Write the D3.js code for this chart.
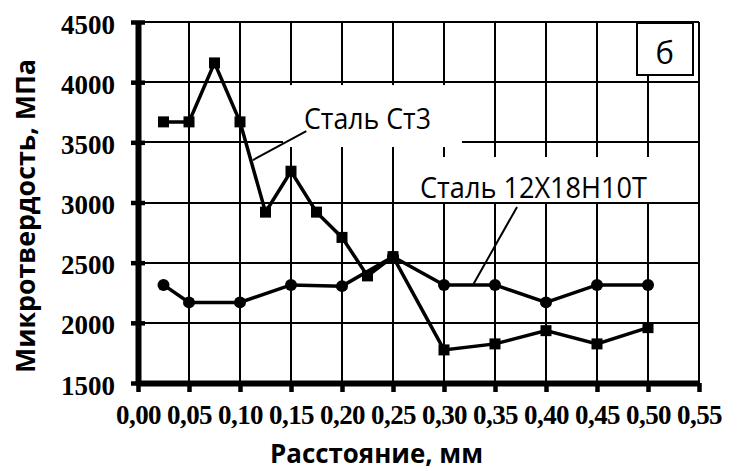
<!DOCTYPE html>
<html>
<head>
<meta charset="utf-8">
<script src="https://cdn.jsdelivr.net/npm/d3@7"></script>
<style>
  body { margin: 0; background: #fff; }
  svg { display: block; }
</style>
</head>
<body>
<svg width="738" height="471"></svg>
<script>
// distance, mm
var xTicks = [0, 0.05, 0.10, 0.15, 0.20, 0.25, 0.30, 0.35, 0.40, 0.45, 0.50, 0.55];
var yTicks = [1500, 2000, 2500, 3000, 3500, 4000, 4500];

// Сталь Ст3 (squares)
var st3X = [0.025, 0.05, 0.075, 0.10, 0.125, 0.15, 0.175, 0.20, 0.225, 0.25, 0.30, 0.35, 0.40, 0.45, 0.50];
var st3Y = [3670, 3670, 4160, 3670, 2920, 3260, 2920, 2710, 2390, 2550, 1775, 1825, 1935, 1825, 1960];

// Сталь 12Х18Н10Т (circles)
var ssX = [0.025, 0.05, 0.10, 0.15, 0.20, 0.25, 0.30, 0.35, 0.40, 0.45, 0.50];
var ssY = [2315, 2170, 2170, 2315, 2305, 2550, 2315, 2315, 2170, 2315, 2315];

var svg = d3.select("svg");
var margin = { top: 22, right: 39, bottom: 88, left: 138 },
    width = +svg.attr("width") - margin.left - margin.right,
    height = +svg.attr("height") - margin.top - margin.bottom;

var x = d3.scaleLinear().domain([0, 0.55]).range([0, width]);
var y = d3.scaleLinear().domain([1500, 4500]).range([height, 0]);

var fmtX = function (d) { return d3.format(".2f")(d).replace(".", ","); };
var px = function (v) { return Math.round(v); };

var g = svg.append("g")
    .attr("transform", "translate(" + margin.left + "," + margin.top + ")");

// grid
g.append("g").attr("shape-rendering", "crispEdges")
    .selectAll("line").data(yTicks).join("line")
    .attr("x1", 0).attr("x2", width)
    .attr("y1", function (d) { return px(y(d)); }).attr("y2", function (d) { return px(y(d)); })
    .attr("stroke", "#000").attr("stroke-width", 2.6);
g.append("g").attr("shape-rendering", "crispEdges")
    .selectAll("line").data(xTicks.slice(1)).join("line")
    .attr("x1", function (d) { return px(x(d)); }).attr("x2", function (d) { return px(x(d)); })
    .attr("y1", 0).attr("y2", height)
    .attr("stroke", "#000").attr("stroke-width", 2.6);

// white label backgrounds that cut the grid
function box(x0, x1, y0, y1) {
    return g.append("rect")
        .attr("x", x(x0)).attr("y", y(y1))
        .attr("width", x(x1) - x(x0)).attr("height", y(y0) - y(y1))
        .attr("fill", "#fff");
}
box(0.1422, 0.3176, 3461, 3976);
box(0.257, 0.546, 3004, 3378);

// axes
var yAxis = d3.axisLeft(y).tickValues(yTicks).tickFormat(d3.format("d"))
    .tickSize(7).tickSizeOuter(0).tickPadding(16);
var xAxis = d3.axisBottom(x).tickValues(xTicks).tickFormat(fmtX)
    .tickSize(9).tickSizeOuter(0).tickPadding(13);

var ya = g.append("g").call(yAxis);
ya.selectAll(".tick line").attr("x1", -7).attr("x2", 7).attr("stroke-width", 4.5);
ya.selectAll("text").attr("dy", "0.41em");

var xa = g.append("g").attr("transform", "translate(0," + height + ")").call(xAxis);
xa.selectAll(".tick line").attr("stroke-width", 4.5);
xa.selectAll("text").attr("letter-spacing", "-0.6");

[ya, xa].forEach(function (a) {
    a.attr("font-family", "Liberation Serif").attr("font-size", 27).attr("font-weight", "bold");
    a.select(".domain").attr("stroke-width", 6);
    a.selectAll("text").attr("fill", "#000")
        .attr("font-family", "Liberation Serif").attr("font-size", 27).attr("font-weight", "bold");
});

// series
var line = d3.line()
    .x(function (d) { return x(d[0]); })
    .y(function (d) { return y(d[1]); });

var st3 = d3.zip(st3X, st3Y);
var ss = d3.zip(ssX, ssY);

g.append("path").datum(ss).attr("d", line)
    .attr("fill", "none").attr("stroke", "#000").attr("stroke-width", 3.5);
g.append("path").datum(st3).attr("d", line)
    .attr("fill", "none").attr("stroke", "#000").attr("stroke-width", 3.5);

g.append("g").selectAll("circle").data(ss).join("circle")
    .attr("cx", function (d) { return x(d[0]); })
    .attr("cy", function (d) { return y(d[1]); })
    .attr("r", 6).attr("fill", "#000");
g.append("g").selectAll("rect").data(st3).join("rect")
    .attr("x", function (d) { return x(d[0]) - 5.5; })
    .attr("y", function (d) { return y(d[1]) - 5.5; })
    .attr("width", 11).attr("height", 11).attr("fill", "#000");

// leader lines
function leader(ax, ay, bx, by) {
    g.append("line")
        .attr("x1", x(ax)).attr("y1", y(ay))
        .attr("x2", x(bx)).attr("y2", y(by))
        .attr("stroke", "#000").attr("stroke-width", 2);
}
leader(0.165, 3594, 0.1127, 3353);
leader(0.3716, 2963, 0.3284, 2315);

var sans = "Open Sans";
g.append("text")
    .attr("x", x(0.1627)).attr("y", y(3610))
    .attr("textLength", 127).attr("lengthAdjust", "spacingAndGlyphs")
    .attr("font-family", sans).attr("font-size", 29)
    .text("Сталь Ст3");
g.append("text")
    .attr("x", x(0.2765)).attr("y", y(3040))
    .attr("textLength", 227).attr("lengthAdjust", "spacingAndGlyphs")
    .attr("font-family", sans).attr("font-size", 29)
    .text("Сталь 12Х18Н10Т");

// panel letter
g.append("rect")
    .attr("x", px(x(0.489))).attr("y", px(y(4492)))
    .attr("width", px(x(0.544) - x(0.489))).attr("height", px(y(4060) - y(4492)))
    .attr("shape-rendering", "crispEdges")
    .attr("fill", "#fff").attr("stroke", "#000").attr("stroke-width", 2.6);
g.append("text")
    .attr("x", x(0.5165)).attr("y", y(4150))
    .attr("text-anchor", "middle")
    .attr("font-family", sans).attr("font-size", 31)
    .text("б");

// axis titles
svg.append("text")
    .attr("transform", "translate(35,216) rotate(-90)")
    .attr("text-anchor", "middle")
    .attr("textLength", 314).attr("lengthAdjust", "spacingAndGlyphs")
    .attr("font-family", sans).attr("font-weight", "bold").attr("font-size", 27)
    .text("Микротвердость, МПа");
svg.append("text")
    .attr("x", 376.5).attr("y", 463)
    .attr("text-anchor", "middle")
    .attr("textLength", 213).attr("lengthAdjust", "spacingAndGlyphs")
    .attr("font-family", sans).attr("font-weight", "bold").attr("font-size", 27)
    .text("Расстояние, мм");
</script>
</body>
</html>
